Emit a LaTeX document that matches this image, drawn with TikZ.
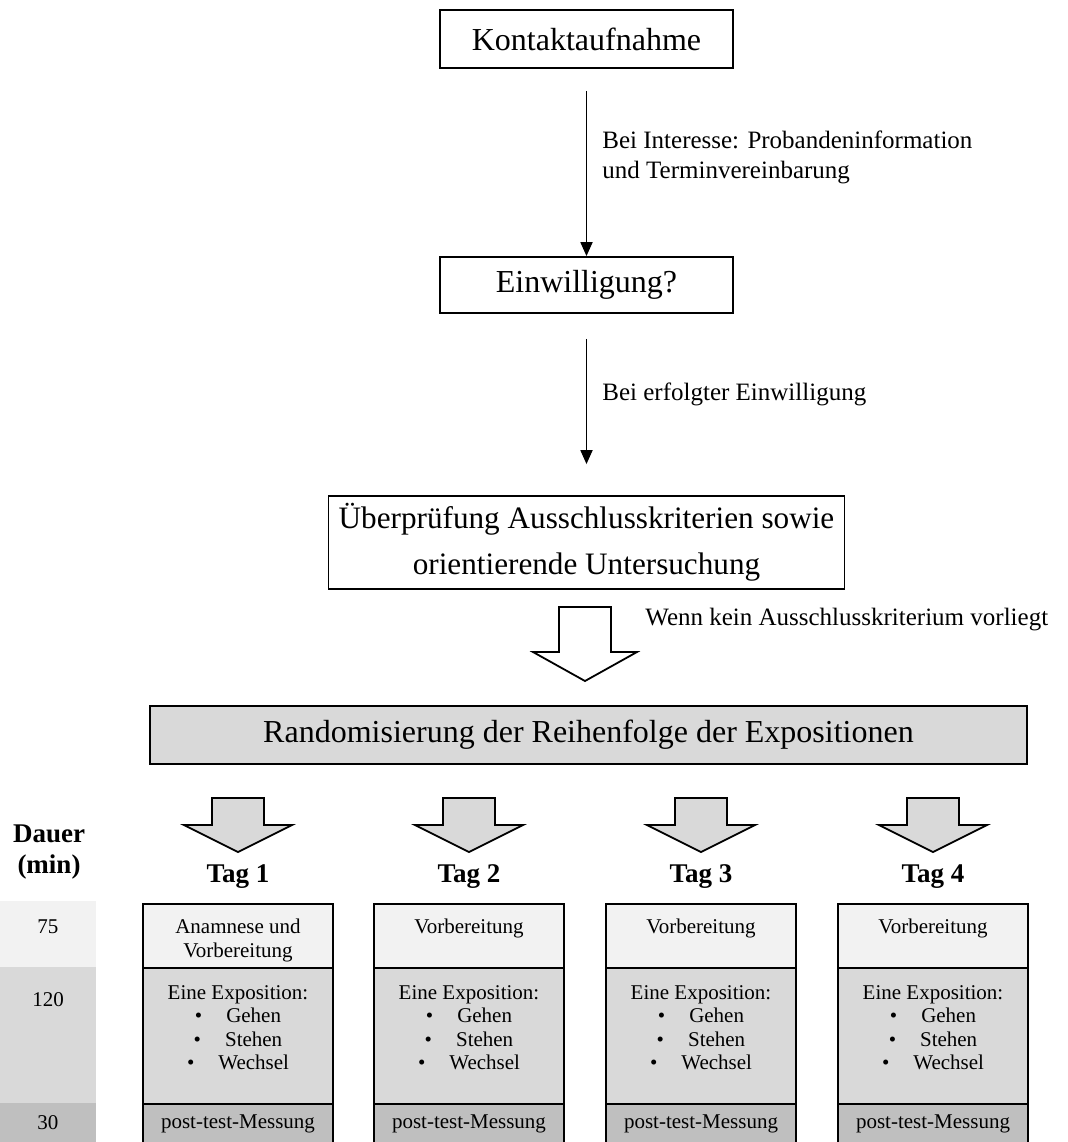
\documentclass[tikz,border=0pt]{standalone}
\usepackage{fontspec}
\setmainfont{Liberation Serif}
\usetikzlibrary{arrows.meta}
\definecolor{light}{HTML}{F2F2F2}
\definecolor{mid}{HTML}{D9D9D9}
\definecolor{dark}{HTML}{BFBFBF}

\begin{document}
\begin{tikzpicture}[x=0.5pt,y=-0.5pt,
    box/.style={draw, line width=0.9pt, align=center, font=\fontsize{16}{23}\selectfont},
    note/.style={anchor=west, inner sep=0pt, align=left, font=\fontsize{12.5}{15}\selectfont},
    cell/.style={draw, line width=0.9pt, minimum width=95pt, inner sep=0pt, anchor=north, font=\fontsize{10.5}{11.75}\selectfont},
    small/.style={inner sep=0pt, align=center, anchor=north, font=\fontsize{10.5}{11.75}\selectfont},
    bold/.style={align=center, font=\bfseries\fontsize{13.5}{15.5}\selectfont},
    fat/.style={draw, line width=0.9pt, line join=miter}]
    \useasboundingbox (0,0) rectangle (1067,1142);

    % flow at the top
    \node[box, minimum width=146.5pt, minimum height=29pt] (kontakt) at (586.5,39) {Kontaktaufnahme};
    \node[box, minimum width=146.5pt, minimum height=28pt] (einw) at (586.5,285) {Einwilligung?};
    \node[box, inner xsep=1pt, minimum width=258pt, minimum height=46.5pt, font=\fontsize{15.6}{23}\selectfont] (pruef) at (586.5,542.5) {Überprüfung Ausschlusskriterien sowie\\orientierende Untersuchung};
    \node[box, fill=mid, minimum width=438.5pt, minimum height=29pt] (rand) at (588.5,735) {Randomisierung der Reihenfolge der Expositionen};

    \draw[line width=0.9pt, -{Triangle[width=6pt,length=7pt]}, shorten <=11pt] (kontakt.south) -- (einw.north);
    \draw[line width=0.9pt, -{Triangle[width=6pt,length=7pt]}, shorten <=12.5pt, shorten >=15.5pt] (einw.south) -- (pruef.north);

    \node[note] (info) at (602,157) {Bei Interesse: Probandeninformation\\und Terminvereinbarung};
    \node[note] (zusage) at (602,394) {Bei erfolgter Einwilligung};
    \node[note] (kein) at (645,620) {Wenn kein Ausschlusskriterium vorliegt};

    \draw[fat, fill=white] (559,607) -- (611,607) -- (611,652) -- (637,652) -- (585,681) -- (533,652) -- (559,652) -- cycle;

    % Dauer column
    \node[bold] (dauer) at (49,852) {Dauer\\(min)};
    \node[fill=light, inner sep=0pt, minimum width=48pt, minimum height=33pt, anchor=north west] (d75) at (0,901) {};
    \node[fill=mid, inner sep=0pt, minimum width=48pt, minimum height=68pt, anchor=north west] (d120) at (0,967) {};
    \node[fill=dark, inner sep=0pt, minimum width=48pt, minimum height=20pt, anchor=north west] (d30) at (0,1103) {};
    \node[font=\fontsize{10.5}{11.75}\selectfont] (t75) at (48,927) {75};
    \node[font=\fontsize{10.5}{11.75}\selectfont] (t120) at (48,1000) {120};
    \node[font=\fontsize{10.5}{11.75}\selectfont] (t30) at (48,1123) {30};

    % days
    \foreach \x/\n/\prep in {238/1/{Anamnese und\\Vorbereitung}, 469/2/Vorbereitung, 701/3/Vorbereitung, 933/4/Vorbereitung} {
        \draw[fat, fill=mid] (\x-26,798) -- (\x+26,798) -- (\x+26,825) -- (\x+54,825) -- (\x,852) -- (\x-54,825) -- (\x-26,825) -- cycle;
        \node[bold] (tag\n) at (\x,877) {Tag \n};
        \node[cell, fill=light, minimum height=32pt] (prep\n) at (\x,903) {};
        \node[cell, fill=mid, minimum height=68pt] (expo\n) at (\x,967) {};
        \node[cell, fill=dark, minimum height=20pt] (post\n) at (\x,1103) {post-test-Messung};
        \node[small] (vor\n) at (\x,919) {\prep};
        \node[small] (list\n) at (\x,985) {Eine Exposition:\\\textbullet\hspace{12pt}Gehen\\\textbullet\hspace{12pt}Stehen\\\textbullet\hspace{12pt}Wechsel};
    }
\end{tikzpicture}
\end{document}
